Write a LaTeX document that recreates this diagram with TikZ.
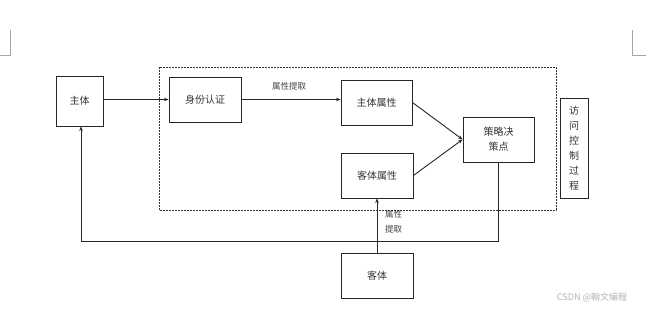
\documentclass[tikz,border=0pt]{standalone}
\usepackage{fontspec}
\setmainfont{Noto Sans CJK SC}
\usetikzlibrary{arrows.meta}
\begin{document}
\begin{tikzpicture}[x=1pt,y=-1pt,
  box/.style={draw=black!85, line width=0.9pt, inner sep=0pt, font=\fontsize{10}{12}\selectfont, text=black!80},
  conn/.style={draw=black!85, line width=0.9pt, -{Stealth[length=4.5pt,width=3.5pt]}},
  lbl/.style={font=\fontsize{8.5}{10}\selectfont, text=black!75, inner sep=0pt},
  cornermark/.style={draw=black!35, line width=0.7pt}]
\useasboundingbox (0,0) rectangle (646,312);
% page corner marks
\draw[cornermark] (10,30) -- (10,55) -- (0,55);
\draw[cornermark] (632,30) -- (632,55) -- (646,55);
% dashed region
\draw[black!80, line width=0.8pt, dash pattern=on 2pt off 1pt] (159,67) rectangle (556,210);
% nodes
\node[box, minimum width=47, minimum height=50] (zhuti) at (79.5,101) {主体};
\node[box, minimum width=72, minimum height=45] (shenfen) at (205,99.5) {身份认证};
\node[box, minimum width=71, minimum height=45] (zsx) at (376.5,102.5) {主体属性};
\node[box, minimum width=72, minimum height=45] (ksx) at (377,175.5) {客体属性};
\node[box, minimum width=71, minimum height=45, align=center, font=\fontsize{10}{15}\selectfont] (clj) at (498.5,139.5) {策略决\\策点};
\node[box, minimum width=28, minimum height=100, align=center, font=\fontsize{10}{15}\selectfont] (fw) at (574,148) {访\\问\\控\\制\\过\\程};
\node[box, minimum width=72, minimum height=45] (keti) at (377,275.5) {客体};
% connectors
\draw[conn] (zhuti.east |- shenfen.west) -- (shenfen.west);
\draw[conn] (shenfen.east) -- (shenfen.east -| zsx.west);
\node[lbl] (l1) at (289,86) {属性提取};
\draw[conn] (zsx.east) -- (clj.west);
\draw[conn] (ksx.east) -- (clj.west);
\coordinate (bl) at (81,241);
\draw[conn] (clj.south) |- (bl) -- (bl |- zhuti.south);
\draw[conn] (keti.north) -- (ksx.south);
\node[lbl, anchor=west, align=left, font=\fontsize{8.5}{15}\selectfont] (l2) at (385,221.5) {属性\\提取};
% watermark
\node[font=\fontsize{9}{10}\selectfont, text=black!30, inner sep=0pt] (wm) at (592,297) {CSDN @翰文编程};
\end{tikzpicture}
\end{document}
